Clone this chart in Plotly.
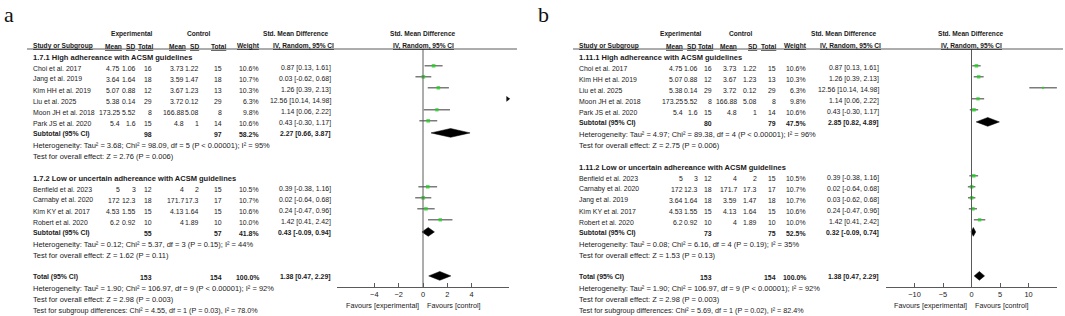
import plotly.graph_objects as go

W, H = 1065, 316
ROW0, ROWH = 57, 11          # pixel y of row 0 and row height

# ---------------- data: panel a ----------------
a_group1_title = "1.7.1 High adhereance with ACSM guidelines"
a_group2_title = "1.7.2 Low or uncertain adhereance with ACSM guidelines"
a_g1_studies = ["Choi et al. 2017", "Jang et al. 2019", "Kim HH et al. 2019", "Liu et al. 2025",
                "Moon JH et al. 2018", "Park JS et al. 2020"]
a_g1_exp_mean = ["4.75", "3.64", "5.07", "5.38", "173.25", "5.4"]
a_g1_exp_sd = ["1.06", "1.64", "0.88", "0.14", "5.52", "1.6"]
a_g1_exp_n = ["16", "18", "12", "29", "8", "15"]
a_g1_ctl_mean = ["3.73", "3.59", "3.67", "3.72", "166.88", "4.8"]
a_g1_ctl_sd = ["1.22", "1.47", "1.23", "0.12", "5.08", "1"]
a_g1_ctl_n = ["15", "18", "13", "29", "8", "14"]
a_g1_weight = [10.6, 10.7, 10.3, 6.3, 9.8, 10.6]
a_g1_smd = [0.87, 0.03, 1.26, 12.56, 1.14, 0.43]
a_g1_lo = [0.13, -0.62, 0.39, 10.14, 0.06, -0.30]
a_g1_hi = [1.61, 0.68, 2.13, 14.98, 2.22, 1.17]
a_g1_sub = {"n_e": "98", "n_c": "97", "w": "58.2%", "smd": 2.27, "lo": 0.66, "hi": 3.87}
a_g1_het = "Heterogeneity: Tau² = 3.68; Chi² = 98.09, df = 5 (P < 0.00001); I² = 95%"
a_g1_test = "Test for overall effect: Z = 2.76 (P = 0.006)"

a_g2_studies = ["Benfield et al. 2023", "Carnaby et al. 2020", "Kim KY et al. 2017", "Robert et al. 2020"]
a_g2_exp_mean = ["5", "172", "4.53", "6.2"]
a_g2_exp_sd = ["3", "12.3", "1.55", "0.92"]
a_g2_exp_n = ["12", "18", "15", "10"]
a_g2_ctl_mean = ["4", "171.7", "4.13", "4"]
a_g2_ctl_sd = ["2", "17.3", "1.64", "1.89"]
a_g2_ctl_n = ["15", "17", "15", "10"]
a_g2_weight = [10.5, 10.7, 10.6, 10.0]
a_g2_smd = [0.39, 0.02, 0.24, 1.42]
a_g2_lo = [-0.38, -0.64, -0.47, 0.41]
a_g2_hi = [1.16, 0.68, 0.96, 2.42]
a_g2_sub = {"n_e": "55", "n_c": "57", "w": "41.8%", "smd": 0.43, "lo": -0.09, "hi": 0.94}
a_g2_het = "Heterogeneity: Tau² = 0.12; Chi² = 5.37, df = 3 (P = 0.15); I² = 44%"
a_g2_test = "Test for overall effect: Z = 1.62 (P = 0.11)"

a_total = {"n_e": "153", "n_c": "154", "w": "100.0%", "smd": 1.38, "lo": 0.47, "hi": 2.29}
a_total_het = "Heterogeneity: Tau² = 1.90; Chi² = 106.97, df = 9 (P < 0.00001); I² = 92%"
a_total_test = "Test for overall effect: Z = 2.98 (P = 0.003)"
a_sub_diff = "Test for subgroup differences: Chi² = 4.55, df = 1 (P = 0.03), I² = 78.0%"
a_ticks = [-4, -2, 0, 2, 4]
a_range = [-7.07, 7.07]

# ---------------- data: panel b ----------------
b_group1_title = "1.11.1 High adhereance with ACSM guidelines"
b_group2_title = "1.11.2 Low or uncertain adhereance with ACSM guidelines"
b_g1_studies = ["Choi et al. 2017", "Kim HH et al. 2019", "Liu et al. 2025", "Moon JH et al. 2018",
                "Park JS et al. 2020"]
b_g1_exp_mean = ["4.75", "5.07", "5.38", "173.25", "5.4"]
b_g1_exp_sd = ["1.06", "0.88", "0.14", "5.52", "1.6"]
b_g1_exp_n = ["16", "12", "29", "8", "15"]
b_g1_ctl_mean = ["3.73", "3.67", "3.72", "166.88", "4.8"]
b_g1_ctl_sd = ["1.22", "1.23", "0.12", "5.08", "1"]
b_g1_ctl_n = ["15", "13", "29", "8", "14"]
b_g1_weight = [10.6, 10.3, 6.3, 9.8, 10.6]
b_g1_smd = [0.87, 1.26, 12.56, 1.14, 0.43]
b_g1_lo = [0.13, 0.39, 10.14, 0.06, -0.30]
b_g1_hi = [1.61, 2.13, 14.98, 2.22, 1.17]
b_g1_sub = {"n_e": "80", "n_c": "79", "w": "47.5%", "smd": 2.85, "lo": 0.82, "hi": 4.89}
b_g1_het = "Heterogeneity: Tau² = 4.97; Chi² = 89.38, df = 4 (P < 0.00001); I² = 96%"
b_g1_test = "Test for overall effect: Z = 2.75 (P = 0.006)"

b_g2_studies = ["Benfield et al. 2023", "Carnaby et al. 2020", "Jang et al. 2019", "Kim KY et al. 2017",
                "Robert et al. 2020"]
b_g2_exp_mean = ["5", "172", "3.64", "4.53", "6.2"]
b_g2_exp_sd = ["3", "12.3", "1.64", "1.55", "0.92"]
b_g2_exp_n = ["12", "18", "18", "15", "10"]
b_g2_ctl_mean = ["4", "171.7", "3.59", "4.13", "4"]
b_g2_ctl_sd = ["2", "17.3", "1.47", "1.64", "1.89"]
b_g2_ctl_n = ["15", "17", "18", "15", "10"]
b_g2_weight = [10.5, 10.7, 10.7, 10.6, 10.0]
b_g2_smd = [0.39, 0.02, 0.03, 0.24, 1.42]
b_g2_lo = [-0.38, -0.64, -0.62, -0.47, 0.41]
b_g2_hi = [1.16, 0.68, 0.68, 0.96, 2.42]
b_g2_sub = {"n_e": "73", "n_c": "75", "w": "52.5%", "smd": 0.32, "lo": -0.09, "hi": 0.74}
b_g2_het = "Heterogeneity: Tau² = 0.08; Chi² = 6.16, df = 4 (P = 0.19); I² = 35%"
b_g2_test = "Test for overall effect: Z = 1.53 (P = 0.13)"

b_total = {"n_e": "153", "n_c": "154", "w": "100.0%", "smd": 1.38, "lo": 0.47, "hi": 2.29}
b_total_het = "Heterogeneity: Tau² = 1.90; Chi² = 106.97, df = 9 (P < 0.00001); I² = 92%"
b_total_test = "Test for overall effect: Z = 2.98 (P = 0.003)"
b_sub_diff = "Test for subgroup differences: Chi² = 5.69, df = 1 (P = 0.02), I² = 82.4%"
b_ticks = [-10, -5, 0, 5, 10]
b_range = [-15, 15]

# ---------------- styling ----------------
FONT = "Liberation Sans, Arial, sans-serif"
FS = 6.9          # table cells
FSL = 7.5         # long text lines (group titles, heterogeneity, tests)
FSH = 6.6         # bold column headers
TXT = "#1a1a1a"
LINE = "#5a5a5a"
GREEN = "#19d219"

fig = go.Figure()
annotations = []
shapes = []


def ann(xpx, row, text, anchor="left", bold=False, size=FS, font=FONT, color=TXT):
    if bold:
        text = "<b>" + text + "</b>"
    annotations.append(dict(x=xpx / W, y=row, xref="paper", yref="y", text=text,
                            xanchor=anchor, yanchor="middle", showarrow=False, borderpad=0,
                            font=dict(family=font, size=size, color=color)))


def fmt_ci(s, l, h):
    return f"{s:.2f} [{l:.2f}, {h:.2f}]"


def build_panel(cfg):
    c = cfg["cols"]
    hd = cfg["hdr"]
    xa = cfg["xaxis"]
    rng = cfg["range"]
    # panel letter
    ann(cfg["label_x"], (14 - ROW0) / ROWH, cfg["label"], "left", size=22,
        font="Liberation Serif, Times New Roman, serif", color="#111111")
    # headers
    r1, r2 = -2.1, -1.0
    ann(hd["exp"], r1, "Experimental", "center", True, FSH)
    ann(hd["ctl"], r1, "Control", "center", True, FSH)
    ann(hd["ci1"], r1, "Std. Mean Difference", "center", True, FSH)
    ann(hd["plot"], r1, "Std. Mean Difference", "center", True, FSH)
    ann(c["study"], r2, "<u>Study or Subgroup</u>", "left", True, FSH)
    ann(hd["em"], r2, "<u>Mean</u>", "right", True, FSH)
    ann(hd["esd"], r2, "<u>SD</u>", "right", True, FSH)
    ann(hd["en"], r2, "<u>Total</u>", "right", True, FSH)
    ann(hd["cm"], r2, "<u>Mean</u>", "right", True, FSH)
    ann(hd["csd"], r2, "<u>SD</u>", "right", True, FSH)
    ann(hd["cn"], r2, "<u>Total</u>", "right", True, FSH)
    ann(hd["w"], r2, "<u>Weight</u>", "right", True, FSH)
    ann(hd["ci2"], r2, "<u>IV, Random, 95% CI</u>", "center", True, FSH)
    ann(hd["plot"], r2, "<u>IV, Random, 95% CI</u>", "center", True, FSH)
    # header rule
    shapes.append(dict(type="line", xref="paper", yref="paper", x0=hd["rule0"] / W, x1=hd["rule1"] / W,
                       y0=1 - 49 / H, y1=1 - 49 / H, line=dict(color=LINE, width=1)))

    ci_x, ci_y, sq_x, sq_y, sq_s, arr_x, arr_y = [], [], [], [], [], [], []
    dia_x, dia_y = [], []
    row = 0
    for g in cfg["groups"]:
        ann(c["study"], row, g["title"], "left", True, FSL)
        row += 1
        for i, name in enumerate(g["studies"]):
            ann(c["study"], row, name)
            ann(c["em"], row, g["em"][i], "right")
            ann(c["esd"], row, g["esd"][i], "right")
            ann(c["en"], row, g["en"][i], "right")
            ann(c["cm"], row, g["cm"][i], "right")
            ann(c["csd"], row, g["csd"][i], "right")
            ann(c["cn"], row, g["cn"][i], "right")
            ann(c["w"], row, f"{g['w'][i]:.1f}%", "right")
            ann(c["ci"], row, fmt_ci(g["smd"][i], g["lo"][i], g["hi"][i]), "right")
            lo, hi, s = g["lo"][i], g["hi"][i], g["smd"][i]
            if lo > rng[1]:
                arr_x.append(rng[1] - 0.008 * (rng[1] - rng[0]))
                arr_y.append(row - 0.2)
            else:
                ci_x += [max(lo, rng[0]), min(hi, rng[1]), None]
                ci_y += [row - 0.2, row - 0.2, None]
                sq_x.append(s)
                sq_y.append(row - 0.2)
                sq_s.append(g["w"][i] * 0.34)
            row += 1
        sub = g["sub"]
        ann(c["study"], row, "Subtotal (95% CI)", "left", True)
        ann(c["en"], row, sub["n_e"], "right", True)
        ann(c["cn"], row, sub["n_c"], "right", True)
        ann(c["w"], row, sub["w"], "right", True)
        ann(c["ci"], row, fmt_ci(sub["smd"], sub["lo"], sub["hi"]), "right", True)
        dia_x += [sub["lo"], sub["smd"], sub["hi"], sub["smd"], sub["lo"], None]
        dia_y += [row - 0.1, row - 0.5, row - 0.1, row + 0.3, row - 0.1, None]
        row += 1
        ann(c["study"], row, g["het"], size=FSL)
        row += 1
        ann(c["study"], row, g["test"], size=FSL)
        row += 2
    tot = cfg["total"]
    ann(c["study"], row, "Total (95% CI)", "left", True)
    ann(c["en"], row, tot["n_e"], "right", True)
    ann(c["cn"], row, tot["n_c"], "right", True)
    ann(c["w"], row, tot["w"], "right", True)
    ann(c["ci"], row, fmt_ci(tot["smd"], tot["lo"], tot["hi"]), "right", True)
    dia_x += [tot["lo"], tot["smd"], tot["hi"], tot["smd"], tot["lo"], None]
    dia_y += [row - 0.1, row - 0.5, row - 0.1, row + 0.3, row - 0.1, None]
    ann(c["study"], row + 1, cfg["total_het"], size=FSL)
    ann(c["study"], row + 2, cfg["total_test"], size=FSL)
    ann(c["study"], row + 3, cfg["sub_diff"], size=7.2)

    # zero line
    shapes.append(dict(type="line", xref=xa, yref="y", x0=0, x1=0,
                       y0=(49 - ROW0) / ROWH, y1=(287 - ROW0) / ROWH,
                       line=dict(color=LINE, width=1)))
    # favours labels
    ann(hd["plot"] - 3, (305 - ROW0) / ROWH, "Favours [experimental]", "right", size=7.2)
    ann(hd["plot"] + 3, (305 - ROW0) / ROWH, "Favours [control]", "left", size=7.2)

    fig.add_trace(go.Scatter(x=ci_x, y=ci_y, mode="lines", xaxis=xa, yaxis="y",
                             line=dict(color=LINE, width=1.2), hoverinfo="skip"))
    fig.add_trace(go.Scatter(x=sq_x, y=sq_y, mode="markers", xaxis=xa, yaxis="y",
                             marker=dict(symbol="square", size=sq_s, color=GREEN, line=dict(width=0)),
                             hoverinfo="skip"))
    fig.add_trace(go.Scatter(x=dia_x, y=dia_y, mode="lines", fill="toself", xaxis=xa, yaxis="y",
                             fillcolor="#000000", line=dict(color="#000000", width=0.5),
                             hoverinfo="skip"))
    if arr_x:
        fig.add_trace(go.Scatter(x=arr_x, y=arr_y, mode="markers", xaxis=xa, yaxis="y",
                                 marker=dict(symbol="triangle-right", size=5, color="#111111"),
                                 cliponaxis=False, hoverinfo="skip"))


panel_a = dict(
    label="a", label_x=3, xaxis="x", range=a_range,
    cols=dict(study=32, em=121, esd=137, en=153, cm=185, csd=200, cn=223, w=260, ci=332),
    hdr=dict(exp=132, ctl=199, ci1=296, ci2=303, plot=423, em=123, esd=136, en=154, cm=187,
             csd=200, cn=227, w=261, rule0=27, rule1=517),
    groups=[
        dict(title=a_group1_title, studies=a_g1_studies, em=a_g1_exp_mean, esd=a_g1_exp_sd, en=a_g1_exp_n,
             cm=a_g1_ctl_mean, csd=a_g1_ctl_sd, cn=a_g1_ctl_n, w=a_g1_weight, smd=a_g1_smd,
             lo=a_g1_lo, hi=a_g1_hi, sub=a_g1_sub, het=a_g1_het, test=a_g1_test),
        dict(title=a_group2_title, studies=a_g2_studies, em=a_g2_exp_mean, esd=a_g2_exp_sd, en=a_g2_exp_n,
             cm=a_g2_ctl_mean, csd=a_g2_ctl_sd, cn=a_g2_ctl_n, w=a_g2_weight, smd=a_g2_smd,
             lo=a_g2_lo, hi=a_g2_hi, sub=a_g2_sub, het=a_g2_het, test=a_g2_test),
    ],
    total=a_total, total_het=a_total_het, total_test=a_total_test, sub_diff=a_sub_diff)

panel_b = dict(
    label="b", label_x=537, xaxis="x2", range=b_range,
    cols=dict(study=578, em=684, esd=699, en=713, cm=738, csd=758, cn=777, w=807, ci=880),
    hdr=dict(exp=681, ctl=741, ci1=844, ci2=850, plot=971, em=684, esd=697, en=714, cm=738,
             csd=758, cn=777, w=808, rule0=573, rule1=1063),
    groups=[
        dict(title=b_group1_title, studies=b_g1_studies, em=b_g1_exp_mean, esd=b_g1_exp_sd, en=b_g1_exp_n,
             cm=b_g1_ctl_mean, csd=b_g1_ctl_sd, cn=b_g1_ctl_n, w=b_g1_weight, smd=b_g1_smd,
             lo=b_g1_lo, hi=b_g1_hi, sub=b_g1_sub, het=b_g1_het, test=b_g1_test),
        dict(title=b_group2_title, studies=b_g2_studies, em=b_g2_exp_mean, esd=b_g2_exp_sd, en=b_g2_exp_n,
             cm=b_g2_ctl_mean, csd=b_g2_ctl_sd, cn=b_g2_ctl_n, w=b_g2_weight, smd=b_g2_smd,
             lo=b_g2_lo, hi=b_g2_hi, sub=b_g2_sub, het=b_g2_het, test=b_g2_test),
    ],
    total=b_total, total_het=b_total_het, total_test=b_total_test, sub_diff=b_sub_diff)

build_panel(panel_a)
build_panel(panel_b)

axis_common = dict(anchor="free", position=1 - 287 / H, showline=True, linecolor=LINE, linewidth=1,
                   ticks="inside", ticklen=4, tickcolor=LINE, showgrid=False, zeroline=False,
                   tickfont=dict(family=FONT, size=7.4, color=TXT), fixedrange=True)

fig.update_layout(
    width=W, height=H, margin=dict(l=0, r=0, t=0, b=0),
    paper_bgcolor="white", plot_bgcolor="white", showlegend=False,
    xaxis=dict(domain=[337 / W, 509 / W], range=a_range, tickvals=a_ticks, **axis_common),
    xaxis2=dict(domain=[886 / W, 1057 / W], range=b_range, tickvals=b_ticks, **axis_common),
    yaxis=dict(domain=[0, 1], range=[(H - ROW0) / ROWH, -ROW0 / ROWH], visible=False, fixedrange=True),
    annotations=annotations, shapes=shapes,
)

fig.write_html("out.html", config={"displayModeBar": False},
               post_script="document.body.style.margin='0';document.body.style.overflow='hidden';")
